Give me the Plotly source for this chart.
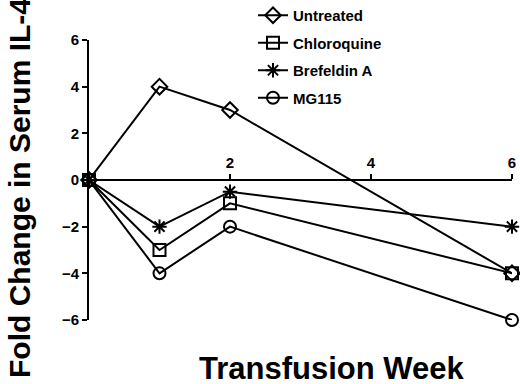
import plotly.graph_objects as go

weeks = [0, 1, 2, 6]
untreated = [0, 4, 3, -4]
chloroquine = [0, -3, -1, -4]
brefeldin = [0, -2, -0.5, -2]
mg115 = [0, -4, -2, -6]

series = [
    ("Untreated", untreated, "diamond-open"),
    ("Chloroquine", chloroquine, "square-open"),
    ("Brefeldin A", brefeldin, "asterisk-open"),
    ("MG115", mg115, "circle-open"),
]

FONT = "Arial, Liberation Sans, sans-serif"

fig = go.Figure()
for i, (name, vals, sym) in enumerate(series):
    fig.add_trace(go.Scatter(
        x=weeks, y=vals, name=name, mode="lines+markers",
        line=dict(color="black", width=2),
        marker=dict(symbol=sym, size=12, color="black", line=dict(color="black", width=2)),
        cliponaxis=False, legendgroup=name,
    ))

W, H = 520, 384
ml, mr, mt, mb = 89, 8, 40, 64
pw, ph = W - ml - mr, H - mt - mb
fig.update_layout(
    width=W, height=H,
    margin=dict(l=ml, r=mr, t=mt, b=mb, autoexpand=False),
    paper_bgcolor="white", plot_bgcolor="white",
    font=dict(family=FONT, color="black"),
    showlegend=True,
    legend=dict(x=(253 - ml) / pw, y=1 + 41 / ph, xanchor="left", yanchor="top",
                font=dict(size=15, family=FONT, weight="bold"),
                tracegroupgap=5, bgcolor="rgba(0,0,0,0)", itemwidth=30),
    xaxis=dict(range=[0, 6], tickvals=[2, 4, 6], ticktext=["2", "4", "6"],
               side="top", anchor="free", position=0.5,
               showline=True, linecolor="black", linewidth=2,
               ticks="outside", ticklen=5, tickwidth=2, tickcolor="black",
               showgrid=False, zeroline=False,
               tickfont=dict(size=15, family=FONT, weight="bold")),
    yaxis=dict(range=[-6, 6], tickvals=[-6, -4, -2, 0, 2, 4, 6],
               showline=True, linecolor="black", linewidth=2,
               ticks="outside", ticklen=5, tickwidth=2, tickcolor="black",
               showgrid=False, zeroline=False,
               tickfont=dict(size=15, family=FONT, weight="bold")),
)

fig.add_annotation(text="Fold Change in Serum IL-4", xref="paper", yref="paper",
                   x=-(ml - 19) / pw, y=1 - (188 - mt) / ph, textangle=-90, showarrow=False,
                   font=dict(size=30, family=FONT, weight="bold"), xanchor="center", yanchor="middle")
fig.add_annotation(text="Transfusion Week", xref="paper", yref="paper",
                   x=(331 - ml) / pw, y=-(368 - (H - mb)) / ph, showarrow=False,
                   font=dict(size=31, family=FONT, weight="bold"), xanchor="center", yanchor="middle")

fig.write_html("out.html", config={"displayModeBar": False},
               post_script="document.body.style.margin='0px';document.body.style.overflow='hidden';")
